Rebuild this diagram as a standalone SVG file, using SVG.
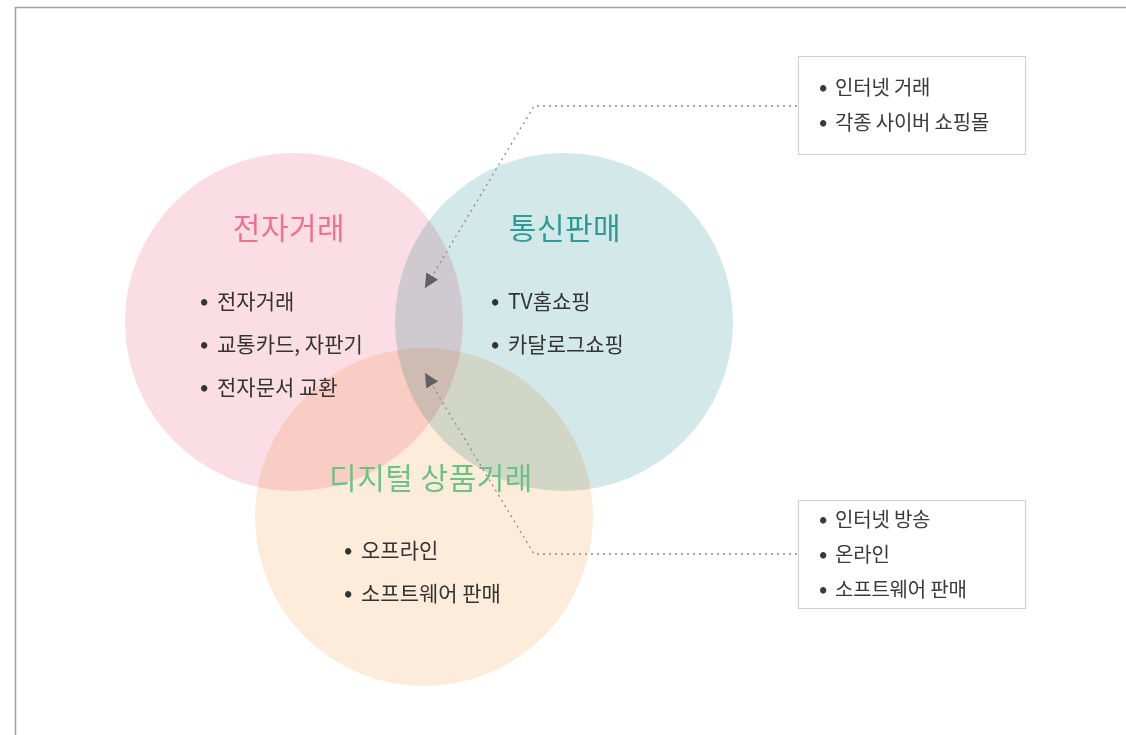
<svg xmlns="http://www.w3.org/2000/svg" width="1126" height="735" viewBox="0 0 1126 735">
<defs>
<style>
.frame{fill:none;stroke:#a0a0a0;stroke-width:1.5}
.c{mix-blend-mode:multiply}
.title{font-family:"Noto Sans CJK KR","Noto Sans",sans-serif;font-size:30px;font-weight:400;letter-spacing:0.5px;text-anchor:middle}
.body{font-family:"Noto Sans CJK KR","Noto Sans",sans-serif;font-size:21px;fill:#333;letter-spacing:0px}
.box{font-family:"Noto Sans CJK KR","Noto Sans",sans-serif;font-size:20px;fill:#3a3a3a;letter-spacing:-0.2px}
.bul{font-size:22px;font-weight:700}
.note{fill:#fff;stroke:#cfcfcf;stroke-width:1}
.conn{fill:none;stroke:#8a8a8a;stroke-width:1.3;stroke-dasharray:2 4}
</style>
<marker id="ah" viewBox="0 0 12 12" refX="12" refY="6" markerWidth="14" markerHeight="14" markerUnits="userSpaceOnUse" orient="auto">
<path d="M0,0 L12,6 L0,12 z" fill="#5f6063"/>
</marker>
</defs>
<rect width="1126" height="735" fill="#fff"/>
<path class="frame" d="M15.5,735 V7.5 H1126"/>
<g id="circle-ecommerce"><circle class="c" cx="294" cy="322" r="169" fill="#fbdee5"/></g>
<g id="circle-mailorder"><circle class="c" cx="564" cy="322" r="169" fill="#d3e8e8"/></g>
<g id="circle-digital"><circle class="c" cx="424" cy="517" r="169" fill="#feecdb"/></g>
<g id="label-ecommerce">
<text class="title" x="289" y="239" fill="#f0708e">전자거래</text>
<text class="body" x="200" y="309"><tspan class="bul">•</tspan><tspan x="217">전자거래</tspan></text>
<text class="body" x="200" y="352"><tspan class="bul">•</tspan><tspan x="217">교통카드, 자판기</tspan></text>
<text class="body" x="200" y="395"><tspan class="bul">•</tspan><tspan x="217">전자문서 교환</tspan></text>
</g>
<g id="label-mailorder">
<text class="title" x="565" y="239" fill="#2c9c96">통신판매</text>
<text class="body" x="491" y="309"><tspan class="bul">•</tspan><tspan x="508">TV홈쇼핑</tspan></text>
<text class="body" x="491" y="352"><tspan class="bul">•</tspan><tspan x="508">카달로그쇼핑</tspan></text>
</g>
<g id="label-digital">
<text class="title" x="431" y="489" fill="#6cc285">디지털 상품거래</text>
<text class="body" x="344" y="558"><tspan class="bul">•</tspan><tspan x="361">오프라인</tspan></text>
<text class="body" x="344" y="601"><tspan class="bul">•</tspan><tspan x="361">소프트웨어 판매</tspan></text>
</g>
<g id="note-top">
<rect class="note" x="798.5" y="56.5" width="227" height="98"/>
<text class="box" x="819" y="95"><tspan class="bul">•</tspan><tspan x="835">인터넷 거래</tspan></text>
<text class="box" x="819" y="130"><tspan class="bul">•</tspan><tspan x="835">각종 사이버 쇼핑몰</tspan></text>
</g>
<g id="note-bottom">
<rect class="note" x="798.5" y="500.5" width="227" height="108"/>
<text class="box" x="819" y="527"><tspan class="bul">•</tspan><tspan x="835">인터넷 방송</tspan></text>
<text class="box" x="819" y="562"><tspan class="bul">•</tspan><tspan x="835">온라인</tspan></text>
<text class="box" x="819" y="597"><tspan class="bul">•</tspan><tspan x="835">소프트웨어 판매</tspan></text>
</g>
<g id="connectors">
<path class="conn" d="M797,106 H534 L425,288" marker-end="url(#ah)"/>
<path class="conn" d="M797,554 H534 L425,373" marker-end="url(#ah)"/>
</g>
</svg>
